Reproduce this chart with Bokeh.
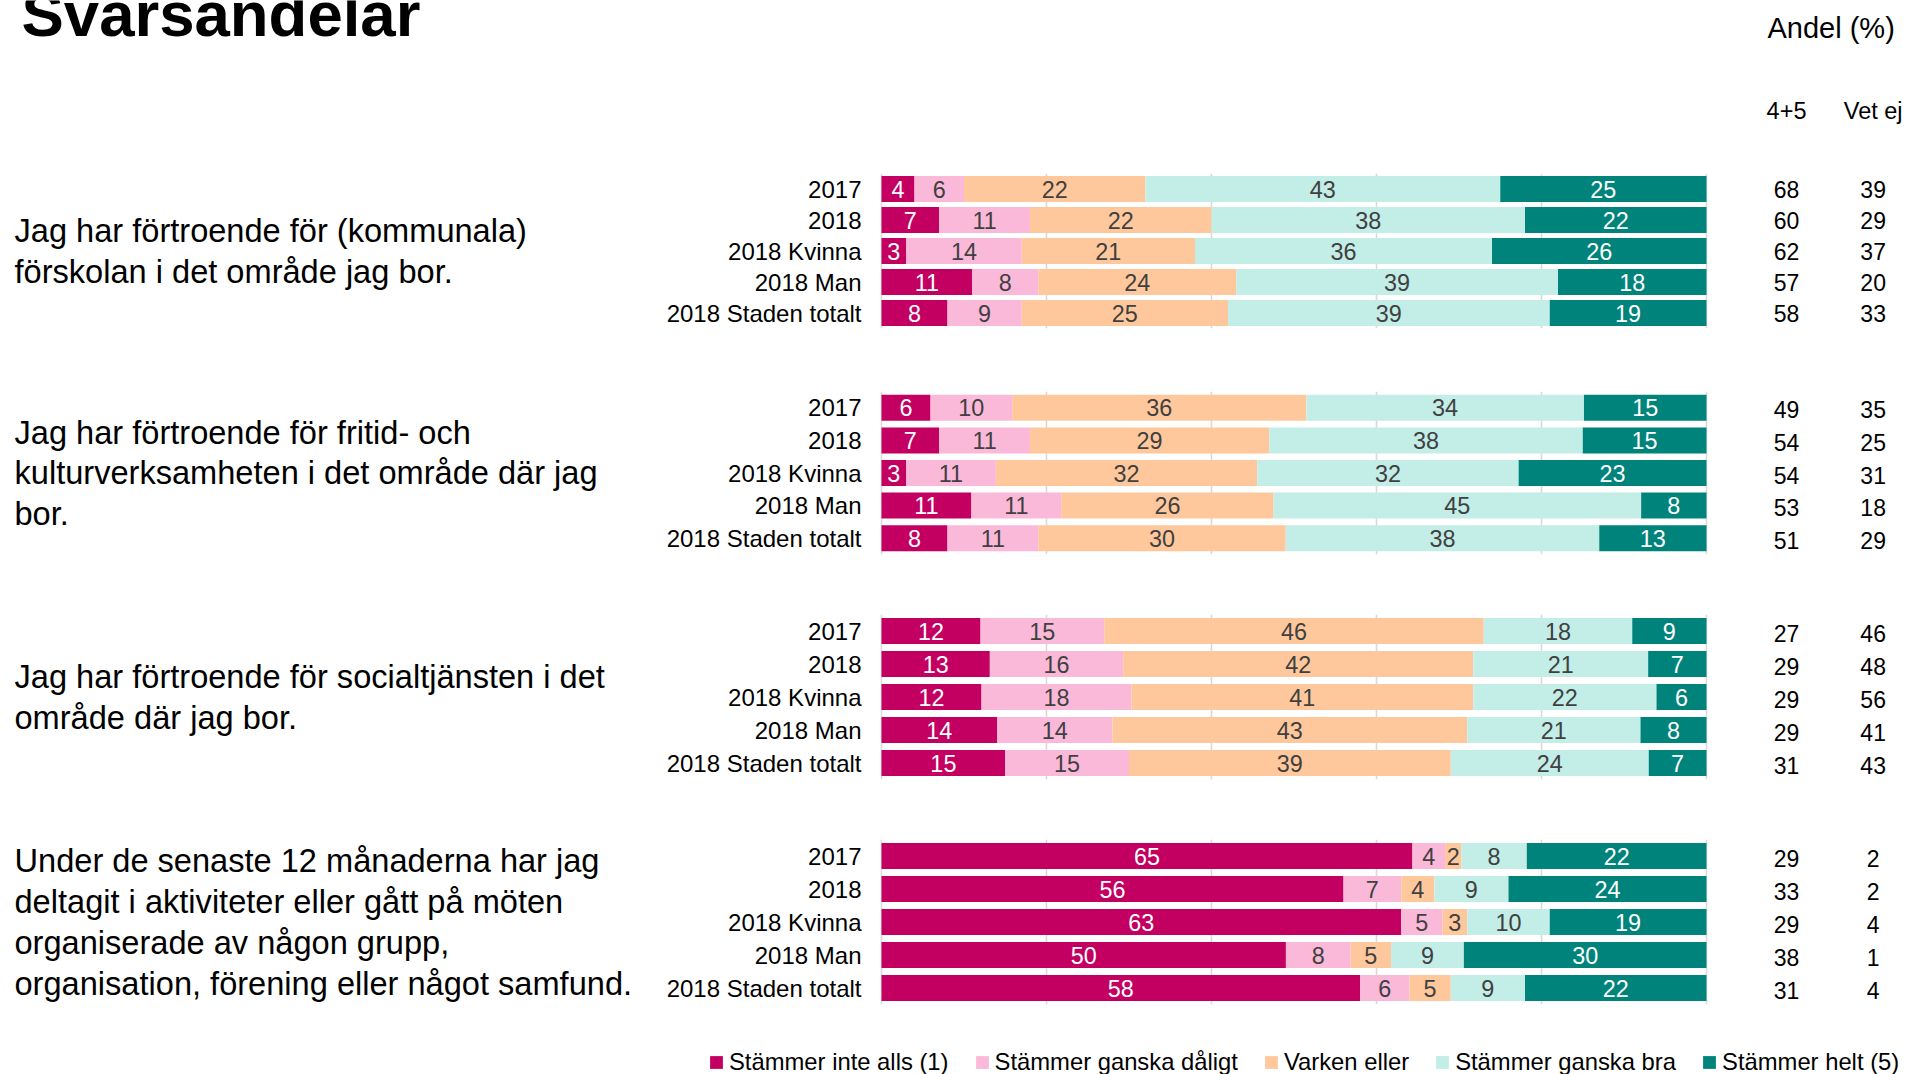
from bokeh.plotting import figure
from bokeh.models import Range1d, FactorRange, FixedTicker, ColumnDataSource, Legend, LegendItem
from bokeh.layouts import column
from bokeh.embed import file_html
from bokeh.resources import INLINE
from bokeh.core.properties import value

# ---------------- data ----------------
title_text = "Svarsandelar"
unit_text = "Andel (%)"
col_headers = ["4+5", "Vet ej"]

categories = ["2017", "2018", "2018 Kvinna", "2018 Man", "2018 Staden totalt"]

series_names = ["Stämmer inte alls (1)", "Stämmer ganska dåligt", "Varken eller",
                "Stämmer ganska bra", "Stämmer helt (5)"]

questions = [
    "Jag har förtroende för (kommunala)\nförskolan i det område jag bor.",
    "Jag har förtroende för fritid- och\nkulturverksamheten i det område där jag\nbor.",
    "Jag har förtroende för socialtjänsten i det\nområde där jag bor.",
    "Under de senaste 12 månaderna har jag\ndeltagit i aktiviteter eller gått på möten\norganiserade av någon grupp,\norganisation, förening eller något samfund.",
]

# Question 1
q1_inte_alls = [4, 7, 3, 11, 8]
q1_ganska_daligt = [6, 11, 14, 8, 9]
q1_varken = [22, 22, 21, 24, 25]
q1_ganska_bra = [43, 38, 36, 39, 39]
q1_helt = [25, 22, 26, 18, 19]
q1_4plus5 = [68, 60, 62, 57, 58]
q1_vet_ej = [39, 29, 37, 20, 33]

# Question 2
q2_inte_alls = [6, 7, 3, 11, 8]
q2_ganska_daligt = [10, 11, 11, 11, 11]
q2_varken = [36, 29, 32, 26, 30]
q2_ganska_bra = [34, 38, 32, 45, 38]
q2_helt = [15, 15, 23, 8, 13]
q2_4plus5 = [49, 54, 54, 53, 51]
q2_vet_ej = [35, 25, 31, 18, 29]

# Question 3
q3_inte_alls = [12, 13, 12, 14, 15]
q3_ganska_daligt = [15, 16, 18, 14, 15]
q3_varken = [46, 42, 41, 43, 39]
q3_ganska_bra = [18, 21, 22, 21, 24]
q3_helt = [9, 7, 6, 8, 7]
q3_4plus5 = [27, 29, 29, 29, 31]
q3_vet_ej = [46, 48, 56, 41, 43]

# Question 4
q4_inte_alls = [65, 56, 63, 50, 58]
q4_ganska_daligt = [4, 7, 5, 8, 6]
q4_varken = [2, 4, 3, 5, 5]
q4_ganska_bra = [8, 9, 10, 9, 9]
q4_helt = [22, 24, 19, 30, 22]
q4_4plus5 = [29, 33, 29, 38, 31]
q4_vet_ej = [2, 2, 4, 1, 4]

# ---------------- style ----------------
series_colors = ["#C30062", "#FBB9DA", "#FFC89C", "#C3EDE7", "#00837A"]
label_colors = ["white", "#404040", "#404040", "#404040", "white"]
FONT = "Liberation Sans"
FIG_W = 1910
PX_PER_PCT = 8.25
BAR_LEFT_PX = 881
X_START = -BAR_LEFT_PX / PX_PER_PCT
X_END = X_START + FIG_W / PX_PER_PCT
X_CAT = -20 / PX_PER_PCT
X_Q = -867 / PX_PER_PCT
X_TITLE = -860 / PX_PER_PCT
X_UNIT = 107.39
X_COL1 = 109.7
X_COL2 = 120.2


def base_fig(height, y_range, mbt=0, mbb=0):
    f = figure(width=FIG_W, height=height, x_range=Range1d(X_START, X_END), y_range=y_range,
               x_axis_location=None, y_axis_location=None, toolbar_location=None,
               output_backend="svg", min_border_left=0, min_border_right=0,
               min_border_top=mbt, min_border_bottom=mbb, outline_line_color=None,
               background_fill_color="white", border_fill_color="white")
    return f


def panel(question, series, sum45, vetej, height, mbt, mbb, pitch, dy):
    p = base_fig(height, FactorRange(factors=list(reversed(categories))), mbt, mbb)
    p.ygrid.visible = False
    p.xgrid.ticker = FixedTicker(ticks=[0, 20, 40, 60, 80, 100])
    p.xgrid.grid_line_color = "#D9D9D9"
    p.xgrid.grid_line_width = 1.6
    bar_h = 26.0 / pitch
    totals = [sum(s[i] for s in series) for i in range(len(categories))]
    left = [0.0] * len(categories)
    for k, s in enumerate(series):
        right = [left[i] + s[i] / totals[i] * 100.0 for i in range(len(categories))]
        src = ColumnDataSource(dict(y=categories, left=left, right=right,
                                    mid=[(a + b) / 2 for a, b in zip(left, right)],
                                    lab=[str(v) for v in s]))
        p.hbar(y="y", left="left", right="right", height=bar_h, source=src,
               fill_color=series_colors[k], line_color=None)
        p.text(x="mid", y="y", text="lab", source=src, text_align="center",
               text_baseline="middle", text_font=value(FONT), text_font_size="23.4px",
               text_color=label_colors[k])
        left = right
    # category labels
    p.text(x=X_CAT, y=categories, text=categories, text_align="right", text_baseline="middle",
           text_font=value(FONT), text_font_size="24px", text_color="black")
    # question
    p.text(x=X_Q, y=[categories[2]], text=[question], text_align="left", text_baseline="middle",
           text_font=value(FONT), text_font_size="32.6px", text_color="black",
           text_line_height=1.1)
    # side columns
    p.text(x=X_COL1, y=categories, text=[str(v) for v in sum45], text_align="center",
           text_baseline="middle", text_font=value(FONT), text_font_size="23px",
           text_color="black", y_offset=dy)
    p.text(x=X_COL2, y=categories, text=[str(v) for v in vetej], text_align="center",
           text_baseline="middle", text_font=value(FONT), text_font_size="23px",
           text_color="black", y_offset=dy)
    return p


# header
HEADER_H = 172
hdr = base_fig(HEADER_H, Range1d(HEADER_H, 0))
hdr.grid.visible = False
hdr.text(x=[X_TITLE], y=[13], text=[title_text], text_align="left", text_baseline="middle",
         text_font=value(FONT), text_font_size="63.5px", text_font_style="bold", text_color="black")
hdr.text(x=[X_UNIT], y=[27], text=[unit_text], text_align="left", text_baseline="middle",
         text_font=value(FONT), text_font_size="29px", text_color="black")
hdr.text(x=[X_COL1, X_COL2], y=[110, 110], text=col_headers, text_align="center",
         text_baseline="middle", text_font=value(FONT), text_font_size="23.5px", text_color="black")

p1 = panel(questions[0], [q1_inte_alls, q1_ganska_daligt, q1_varken, q1_ganska_bra, q1_helt],
           q1_4plus5, q1_vet_ej, 214, 1, 58, 31, 0)
p2 = panel(questions[1], [q2_inte_alls, q2_ganska_daligt, q2_varken, q2_ganska_bra, q2_helt],
           q2_4plus5, q2_vet_ej, 226, 5, 58, 32.6, 2)
p3 = panel(questions[2], [q3_inte_alls, q3_ganska_daligt, q3_varken, q3_ganska_bra, q3_helt],
           q3_4plus5, q3_vet_ej, 224, 2, 57, 33, 2)
p4 = panel(questions[3], [q4_inte_alls, q4_ganska_daligt, q4_varken, q4_ganska_bra, q4_helt],
           q4_4plus5, q4_vet_ej, 172, 3, 4, 33, 2)

# legend
lf = figure(width=FIG_W, height=66, x_range=Range1d(0, 1), y_range=Range1d(0, 1),
            x_axis_location=None, y_axis_location=None, toolbar_location=None,
            output_backend="svg", min_border=0, outline_line_color=None)
lf.grid.visible = False
items = []
for name, col in zip(series_names, series_colors):
    r = lf.hbar(y=[-5], left=[0], right=[0.1], height=0.1, fill_color=col, line_color=None)
    items.append(LegendItem(label=name, renderers=[r]))
leg = Legend(items=items, orientation="horizontal", location=(708, -2), glyph_width=16,
             glyph_height=16, label_standoff=5, spacing=25, padding=0, margin=0,
             border_line_color=None, background_fill_alpha=0, label_text_font=FONT,
             label_text_font_size="23.8px", label_text_color="black")
lf.add_layout(leg)

layout = column(hdr, p1, p2, p3, p4, lf, spacing=0)
open("out.html", "w").write(file_html(layout, INLINE))
